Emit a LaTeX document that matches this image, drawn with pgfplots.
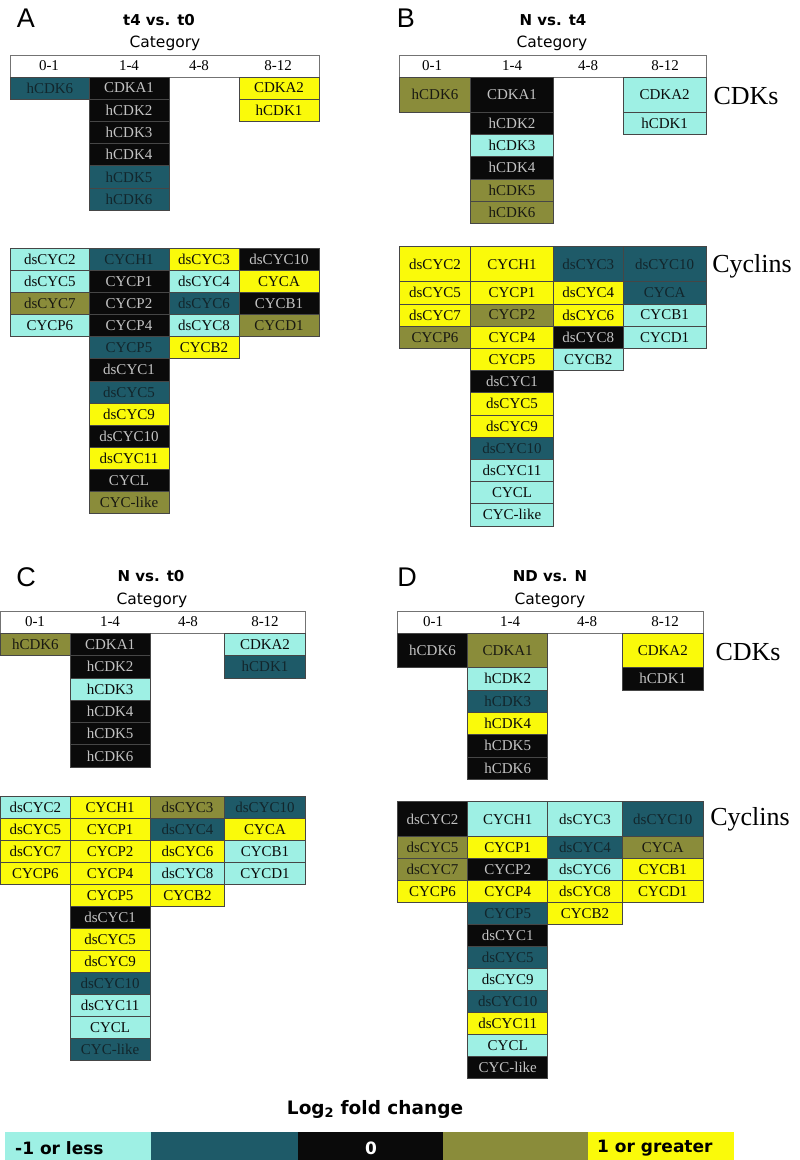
\documentclass[border=0pt]{standalone}
\usepackage{pgfplots}
\pgfplotsset{compat=1.18}
\usepackage{fontspec}
\setmainfont{Liberation Serif}
\newfontfamily\serifc{Liberation Serif}
\newfontfamily\dvs{DejaVu Sans}
\newfontfamily\lsans{Liberation Sans}
\newcommand\cellfont{\serifc\fontsize{15}{15}\selectfont}

\definecolor{cy}{RGB}{158,240,228}
\definecolor{tl}{RGB}{30,90,104}
\definecolor{bk}{RGB}{10,10,10}
\definecolor{ol}{RGB}{138,140,58}
\definecolor{ye}{RGB}{250,250,10}
\definecolor{tcy}{RGB}{10,10,10}
\definecolor{ttl}{RGB}{18,38,44}
\definecolor{tbk}{RGB}{195,195,195}
\definecolor{tol}{RGB}{25,25,18}
\definecolor{tye}{RGB}{10,10,10}
\definecolor{bordc}{RGB}{70,70,70}

% a cell: anchored at its top-left corner, width \cellw, height \cellh
\pgfdeclareplotmark{cell}{%
  \pgfpathrectangle{\pgfpoint{0pt}{-\cellh pt}}{\pgfpoint{\cellw pt}{\cellh pt}}%
  \pgfusepathqfillstroke}

\pgfplotsset{
  cellbase/.style={scatter, only marks, mark=cell,
    visualization depends on={value \thisrow{w} \as \cellw},
    visualization depends on={value \thisrow{h} \as \cellh},
    visualization depends on={value \thisrow{fc} \as \cellfc},
    scatter/use mapped color={draw=#1, fill=\cellfc, line width=0.7pt}},
  celltext/.style={visualization depends on={value \thisrow{lbl} \as \celllbl},
    scatter/@post marker code/.code={%
      \node[anchor=center, inner sep=0pt, font=\cellfont] at (\cellw pt/2, -\cellh pt/2) {\textcolor{t\cellfc}{\celllbl}};%
      \endscope}},
}

\begin{document}
\begin{tikzpicture}
\useasboundingbox (0,0) rectangle (800pt,1160pt);
\begin{axis}[at={(0,0)}, anchor=south west,
  scale only axis, width=800pt, height=1160pt,
  xmin=0, xmax=800, ymin=0, ymax=1160, y dir=reverse,
  hide axis, clip=false,
  after end axis/.code={
    % panel letters
    \node[font=\lsans\fontsize{27}{27}\selectfont] at (axis cs:26,18) {A};
    \node[font=\lsans\fontsize{27}{27}\selectfont] at (axis cs:406,18) {B};
    \node[font=\lsans\fontsize{27}{27}\selectfont] at (axis cs:26,577) {C};
    \node[font=\lsans\fontsize{27}{27}\selectfont] at (axis cs:407,577) {D};
    % titles
    \node[font=\dvs\bfseries\fontsize{15}{15}\selectfont] at (axis cs:159,20) {t4 vs. t0};
    \node[font=\dvs\bfseries\fontsize{15}{15}\selectfont] at (axis cs:553,20) {N vs. t4};
    \node[font=\dvs\bfseries\fontsize{15}{15}\selectfont] at (axis cs:151,576) {N vs. t0};
    \node[font=\dvs\bfseries\fontsize{15}{15}\selectfont] at (axis cs:550,576) {ND vs. N};
    % Category
    \node[font=\dvs\fontsize{15.5}{15.5}\selectfont] at (axis cs:165,43) {Category};
    \node[font=\dvs\fontsize{15.5}{15.5}\selectfont] at (axis cs:552,43) {Category};
    \node[font=\dvs\fontsize{15.5}{15.5}\selectfont] at (axis cs:152,600) {Category};
    \node[font=\dvs\fontsize{15.5}{15.5}\selectfont] at (axis cs:550,600) {Category};
    % column labels
    \node[font=\cellfont, inner sep=0pt] at (axis cs:49,66) {0-1};
    \node[font=\cellfont, inner sep=0pt] at (axis cs:129,66) {1-4};
    \node[font=\cellfont, inner sep=0pt] at (axis cs:199,66) {4-8};
    \node[font=\cellfont, inner sep=0pt] at (axis cs:278,66) {8-12};
    \node[font=\cellfont, inner sep=0pt] at (axis cs:432,66) {0-1};
    \node[font=\cellfont, inner sep=0pt] at (axis cs:512,66) {1-4};
    \node[font=\cellfont, inner sep=0pt] at (axis cs:588,66) {4-8};
    \node[font=\cellfont, inner sep=0pt] at (axis cs:665,66) {8-12};
    \node[font=\cellfont, inner sep=0pt] at (axis cs:35,622) {0-1};
    \node[font=\cellfont, inner sep=0pt] at (axis cs:110,622) {1-4};
    \node[font=\cellfont, inner sep=0pt] at (axis cs:188,622) {4-8};
    \node[font=\cellfont, inner sep=0pt] at (axis cs:265,622) {8-12};
    \node[font=\cellfont, inner sep=0pt] at (axis cs:433,622) {0-1};
    \node[font=\cellfont, inner sep=0pt] at (axis cs:510,622) {1-4};
    \node[font=\cellfont, inner sep=0pt] at (axis cs:587,622) {4-8};
    \node[font=\cellfont, inner sep=0pt] at (axis cs:665,622) {8-12};
    % group labels
    \node[font=\serifc\fontsize{26}{26}\selectfont] at (axis cs:746,96) {CDKs};
    \node[font=\serifc\fontsize{26}{26}\selectfont] at (axis cs:752,266) {Cyclins};
    \node[font=\serifc\fontsize{26}{26}\selectfont] at (axis cs:748,652) {CDKs};
    \node[font=\serifc\fontsize{26}{26}\selectfont] at (axis cs:750,819) {Cyclins};
    % colour scale text
    \node[font=\dvs\bfseries\fontsize{18.5}{18.5}\selectfont] at (axis cs:375,1109) {Log\textsubscript{2} fold change};
    \node[font=\dvs\bfseries\fontsize{17}{17}\selectfont, anchor=west, inner sep=0pt] at (axis cs:15,1148) {-1 or less};
    \node[font=\dvs\bfseries\fontsize{17}{17}\selectfont, text=white, inner sep=0pt] at (axis cs:371,1148) {0};
    \node[font=\dvs\bfseries\fontsize{17}{17}\selectfont, anchor=west, inner sep=0pt] at (axis cs:597,1148) {1 or greater};
  }]

% category header boxes
\addplot[cellbase=black!55] table[x=x0, y=y0] {
x0 y0 w h fc
10.7 55 308.3 22 white
399.3 55 306.7 22 white
0.7 611 304.6 22.3 white
397.3 611 306 22.3 white
};

% colour scale
\addplot[cellbase=\cellfc] table[x=x0, y=y0] {
x0 y0 w h fc
5 1132 146 28 cy
151 1132 147 28 tl
298 1132 145 28 bk
443 1132 145 28 ol
588 1132 145 28 ye
};

% panel A: t4 vs. t0
\addplot[cellbase=bordc, celltext] table[x=x0, y=y0] {
x0 y0 w h fc lbl
10.7 77 78.3 22.2 tl hCDK6
89 77 80 22.2 bk CDKA1
89 99.2 80 22.2 bk hCDK2
89 121.4 80 22.2 bk hCDK3
89 143.6 80 22.2 bk hCDK4
89 165.8 80 22.2 tl hCDK5
89 188 80 22.2 tl hCDK6
239 77 80 22.2 ye CDKA2
239 99.2 80 22.2 ye hCDK1
10.7 248.3 78.3 22.1 cy dsCYC2
10.7 270.4 78.3 22.1 cy dsCYC5
10.7 292.5 78.3 22.1 ol dsCYC7
10.7 314.6 78.3 22.1 cy CYCP6
89 248.3 80 22.1 tl CYCH1
89 270.4 80 22.1 bk CYCP1
89 292.5 80 22.1 bk CYCP2
89 314.6 80 22.1 bk CYCP4
89 336.7 80 22.1 tl CYCP5
89 358.8 80 22.1 bk dsCYC1
89 380.9 80 22.1 tl dsCYC5
89 403 80 22.1 ye dsCYC9
89 425.1 80 22.1 bk dsCYC10
89 447.2 80 22.1 ye dsCYC11
89 469.3 80 22.1 bk CYCL
89 491.4 80 22.1 ol CYC-like
169 248.3 70 22.1 ye dsCYC3
169 270.4 70 22.1 cy dsCYC4
169 292.5 70 22.1 tl dsCYC6
169 314.6 70 22.1 cy dsCYC8
169 336.7 70 22.1 ye CYCB2
239 248.3 80 22.1 bk dsCYC10
239 270.4 80 22.1 ye CYCA
239 292.5 80 22.1 bk CYCB1
239 314.6 80 22.1 ol CYCD1
};

% panel B: N vs. t4
\addplot[cellbase=bordc, celltext] table[x=x0, y=y0] {
x0 y0 w h fc lbl
399.3 77 71.4 35 ol hCDK6
470.7 77 82.6 35 bk CDKA1
470.7 112 82.6 22.3 bk hCDK2
470.7 134.3 82.6 22.3 cy hCDK3
470.7 156.6 82.6 22.3 bk hCDK4
470.7 178.9 82.6 22.3 ol hCDK5
470.7 201.2 82.6 22.3 ol hCDK6
623.3 77 82.7 35 cy CDKA2
623.3 112 82.7 22.3 cy hCDK1
399.3 246.7 71.4 35 ye dsCYC2
399.3 281.7 71.4 22.2 ye dsCYC5
399.3 303.9 71.4 22.2 ye dsCYC7
399.3 326.1 71.4 22.2 ol CYCP6
470.7 246.7 82.6 35 ye CYCH1
470.7 281.7 82.6 22.2 ye CYCP1
470.7 303.9 82.6 22.2 ol CYCP2
470.7 326.1 82.6 22.2 ye CYCP4
470.7 348.3 82.6 22.2 ye CYCP5
470.7 370.5 82.6 22.2 bk dsCYC1
470.7 392.7 82.6 22.2 ye dsCYC5
470.7 414.9 82.6 22.2 ye dsCYC9
470.7 437.1 82.6 22.2 tl dsCYC10
470.7 459.3 82.6 22.2 cy dsCYC11
470.7 481.5 82.6 22.2 cy CYCL
470.7 503.7 82.6 22.2 cy CYC-like
553.3 246.7 70 35 tl dsCYC3
553.3 281.7 70 22.2 ye dsCYC4
553.3 303.9 70 22.2 ye dsCYC6
553.3 326.1 70 22.2 bk dsCYC8
553.3 348.3 70 22.2 cy CYCB2
623.3 246.7 82.7 35 tl dsCYC10
623.3 281.7 82.7 22.2 tl CYCA
623.3 303.9 82.7 22.2 cy CYCB1
623.3 326.1 82.7 22.2 cy CYCD1
};

% panel C: N vs. t0
\addplot[cellbase=bordc, celltext] table[x=x0, y=y0] {
x0 y0 w h fc lbl
0.7 633.3 69.3 22.3 ol hCDK6
70 633.3 80.3 22.3 bk CDKA1
70 655.6 80.3 22.3 bk hCDK2
70 677.9 80.3 22.3 cy hCDK3
70 700.2 80.3 22.3 bk hCDK4
70 722.5 80.3 22.3 bk hCDK5
70 744.8 80.3 22.3 bk hCDK6
224.7 633.3 80.6 22.3 cy CDKA2
224.7 655.6 80.6 22.3 tl hCDK1
0.7 796.7 69.3 22 cy dsCYC2
0.7 818.7 69.3 22 ye dsCYC5
0.7 840.7 69.3 22 ye dsCYC7
0.7 862.7 69.3 22 ye CYCP6
70 796.7 80.3 22 ye CYCH1
70 818.7 80.3 22 ye CYCP1
70 840.7 80.3 22 ye CYCP2
70 862.7 80.3 22 ye CYCP4
70 884.7 80.3 22 ye CYCP5
70 906.7 80.3 22 bk dsCYC1
70 928.7 80.3 22 ye dsCYC5
70 950.7 80.3 22 ye dsCYC9
70 972.7 80.3 22 tl dsCYC10
70 994.7 80.3 22 cy dsCYC11
70 1016.7 80.3 22 cy CYCL
70 1038.7 80.3 22 tl CYC-like
150.3 796.7 74.4 22 ol dsCYC3
150.3 818.7 74.4 22 tl dsCYC4
150.3 840.7 74.4 22 ye dsCYC6
150.3 862.7 74.4 22 cy dsCYC8
150.3 884.7 74.4 22 ye CYCB2
224.7 796.7 80.6 22 tl dsCYC10
224.7 818.7 80.6 22 ye CYCA
224.7 840.7 80.6 22 cy CYCB1
224.7 862.7 80.6 22 cy CYCD1
};

% panel D: ND vs. N
\addplot[cellbase=bordc, celltext] table[x=x0, y=y0] {
x0 y0 w h fc lbl
397.3 633.3 70.4 34.4 bk hCDK6
467.7 633.3 80 34.4 ol CDKA1
467.7 667.7 80 22.3 cy hCDK2
467.7 690 80 22.3 tl hCDK3
467.7 712.3 80 22.3 ye hCDK4
467.7 734.6 80 22.3 bk hCDK5
467.7 756.9 80 22.3 bk hCDK6
622.3 633.3 81 34.4 ye CDKA2
622.3 667.7 81 22.3 bk hCDK1
397.3 801.7 70.4 35 bk dsCYC2
397.3 836.7 70.4 22 ol dsCYC5
397.3 858.7 70.4 22 ol dsCYC7
397.3 880.7 70.4 22 ye CYCP6
467.7 801.7 80 35 cy CYCH1
467.7 836.7 80 22 ye CYCP1
467.7 858.7 80 22 bk CYCP2
467.7 880.7 80 22 ye CYCP4
467.7 902.7 80 22 tl CYCP5
467.7 924.7 80 22 bk dsCYC1
467.7 946.7 80 22 tl dsCYC5
467.7 968.7 80 22 cy dsCYC9
467.7 990.7 80 22 tl dsCYC10
467.7 1012.7 80 22 ye dsCYC11
467.7 1034.7 80 22 cy CYCL
467.7 1056.7 80 22 bk CYC-like
547.7 801.7 74.6 35 cy dsCYC3
547.7 836.7 74.6 22 tl dsCYC4
547.7 858.7 74.6 22 cy dsCYC6
547.7 880.7 74.6 22 ye dsCYC8
547.7 902.7 74.6 22 ye CYCB2
622.3 801.7 81 35 tl dsCYC10
622.3 836.7 81 22 ol CYCA
622.3 858.7 81 22 ye CYCB1
622.3 880.7 81 22 ye CYCD1
};
\end{axis}
\end{tikzpicture}
\end{document}
